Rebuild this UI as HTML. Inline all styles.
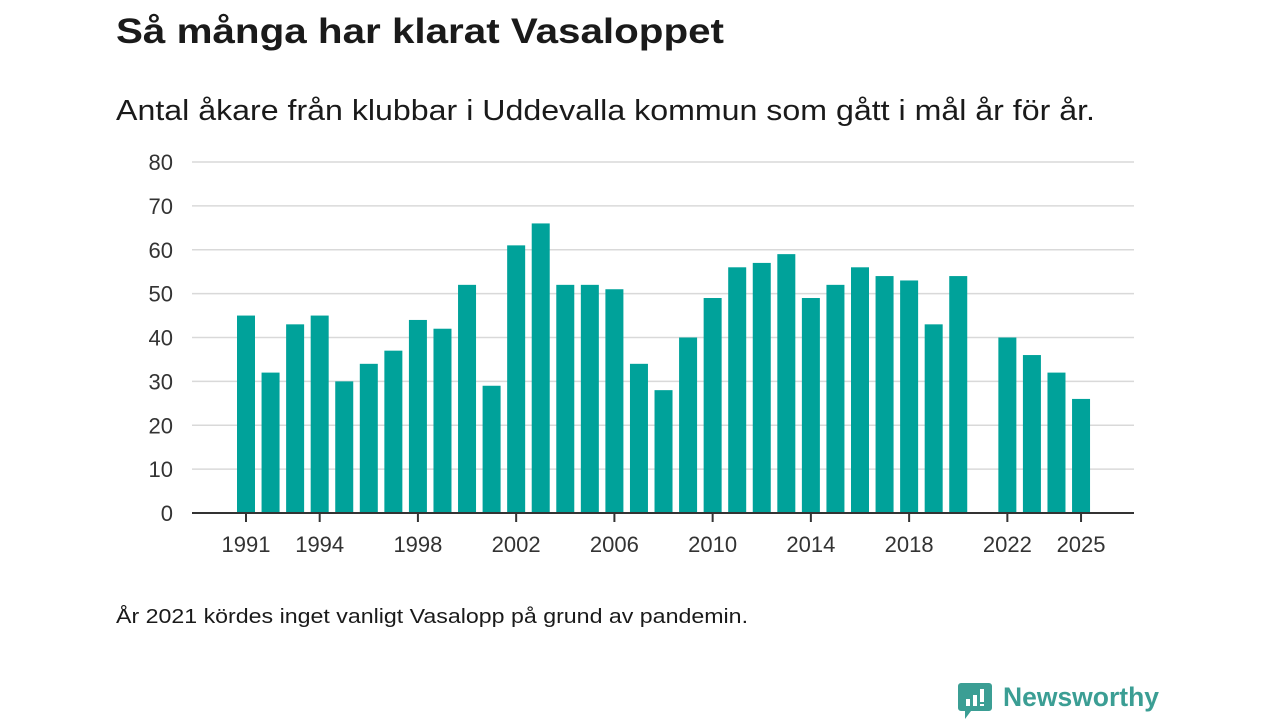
<!DOCTYPE html>
<html><head><meta charset="utf-8"><style>
body{margin:0;background:#fff;width:1280px;height:720px;overflow:hidden;font-family:"Liberation Sans","DejaVu Sans",sans-serif;}
</style></head><body>
<svg width="1280" height="720" xmlns="http://www.w3.org/2000/svg">
<text x="116" y="43" font-size="35" font-weight="bold" fill="#1a1a1a" textLength="608" lengthAdjust="spacingAndGlyphs">Så många har klarat Vasaloppet</text>
<text x="116" y="120" font-size="29" fill="#1a1a1a" textLength="979" lengthAdjust="spacingAndGlyphs">Antal åkare från klubbar i Uddevalla kommun som gått i mål år för år.</text>
<g id="grid"></g><g id="bars"></g><g id="xaxis"></g>
<text x="116" y="623" font-size="20" fill="#1a1a1a" textLength="632" lengthAdjust="spacingAndGlyphs">År 2021 kördes inget vanligt Vasalopp på grund av pandemin.</text>
<g>
<path d="M961 683 h28 a3 3 0 0 1 3 3 v22 a3 3 0 0 1 -3 3 h-18 l-6 8 v-8 h-4 a3 3 0 0 1 -3 -3 v-22 a3 3 0 0 1 3 -3z" fill="#3b9e94"/>
<rect x="966" y="699" width="4" height="7" fill="#fff"/><rect x="973" y="695" width="4" height="11" fill="#fff"/><rect x="980" y="689" width="4" height="13" fill="#fff"/><rect x="980" y="704" width="4" height="2" fill="#fff"/>
<text x="1003" y="706" font-size="27" font-weight="bold" fill="#3b9e94" textLength="156" lengthAdjust="spacingAndGlyphs">Newsworthy</text>
</g>
</svg>
<script>
const years=[1991,1992,1993,1994,1995,1996,1997,1998,1999,2000,2001,2002,2003,2004,2005,2006,2007,2008,2009,2010,2011,2012,2013,2014,2015,2016,2017,2018,2019,2020,2021,2022,2023,2024,2025];
const values=[45,32,43,45,30,34,37,44,42,52,29,61,66,52,52,51,34,28,40,49,56,57,59,49,52,56,54,53,43,54,null,40,36,32,26];
const yTicks=[0,10,20,30,40,50,60,70,80];
const xTickYears=[1991,1994,1998,2002,2006,2010,2014,2018,2022,2025];
const NS="http://www.w3.org/2000/svg";
const y=v=>513-v*(351/80);
const x=yr=>246+(yr-1991)*24.56;
function mk(t,a,p){const e=document.createElementNS(NS,t);for(const k in a)e.setAttribute(k,a[k]);p.appendChild(e);return e;}
const g=document.getElementById('grid'),b=document.getElementById('bars'),xa=document.getElementById('xaxis');
yTicks.forEach(v=>{
 if(v>0){const l=mk('line',{x1:192,x2:1134,y1:y(v),y2:y(v),stroke:'#d9d9d9','stroke-width':1.5},g);
 
 }
 const t=mk('text',{x:173,y:y(v)+8,'text-anchor':'end','font-size':22,fill:'#333'},g);t.textContent=v;
 
 
});
years.forEach((yr,i)=>{const v=values[i];if(v==null)return;
 const r=mk('rect',{x:x(yr)-9,y:y(v),width:18,height:513-y(v),fill:'#00a29a'},b);
 
 
});
const ax=mk('line',{x1:192,x2:1134,y1:513,y2:513,stroke:'#333','stroke-width':2},xa);


xTickYears.forEach(yr=>{
 mk('line',{x1:x(yr),x2:x(yr),y1:513,y2:522,stroke:'#333','stroke-width':2},xa);
 const t=mk('text',{x:x(yr),y:552,'text-anchor':'middle','font-size':22,fill:'#333'},xa);t.textContent=yr;
 
 
});
</script>
</body></html>
